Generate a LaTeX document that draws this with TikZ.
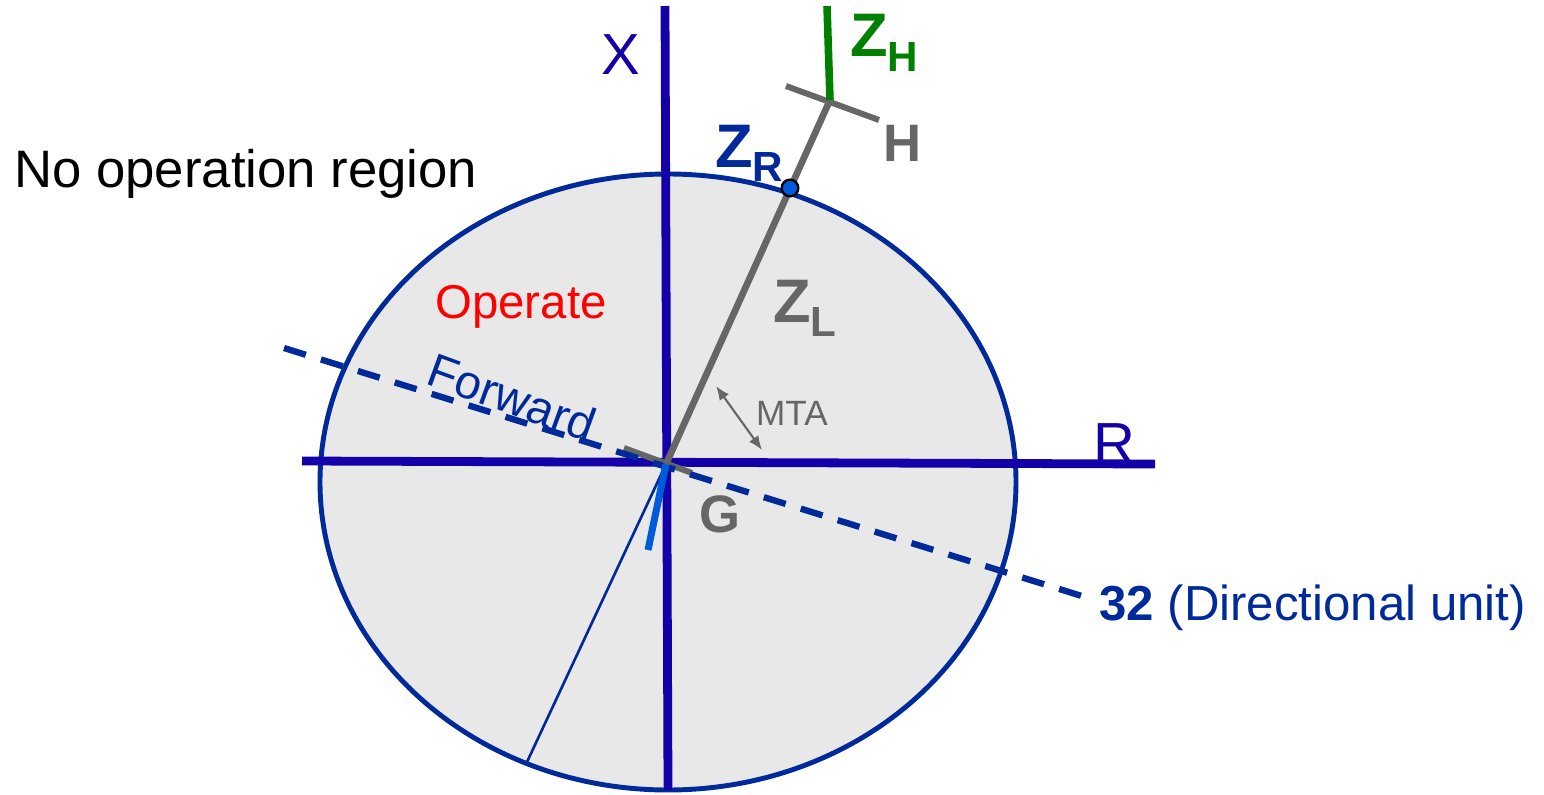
\documentclass[tikz,border=0pt]{standalone}
\usepackage{fontspec}
\setmainfont{Liberation Sans}
\usepackage{xcolor}
\usetikzlibrary{arrows.meta}
\definecolor{axisblue}{RGB}{20,0,168}
\definecolor{navy}{RGB}{0,42,154}
\definecolor{ashgray}{RGB}{102,102,102}
\definecolor{leafgreen}{RGB}{0,128,0}
\definecolor{brightblue}{RGB}{0,90,220}
\definecolor{regionfill}{RGB}{232,232,232}
\newcommand{\fs}[1]{\fontsize{#1}{#1}\selectfont}
\newcommand{\zlab}[1]{\fs{35}Z\fs{24}\raisebox{-8.5pt}{#1}}

\begin{document}
\begin{tikzpicture}[x=0.02cm, y=-0.02cm,
      every node/.style={inner sep=0pt},
      ax/.style={draw=axisblue, line width=5pt},
      zl/.style={draw=ashgray, line width=3.8pt},
      fwd/.style={draw=navy, line width=3.6pt, dash pattern=on 13pt off 9pt},
      lbl/.style={font=\bfseries}]
    \useasboundingbox (0,0) rectangle (1544,794);
    \draw[navy, line width=2.8pt, fill=regionfill] (668,482) ellipse [x radius=348, y radius=308];
    \coordinate (g) at (666,464);
    \coordinate (h) at (830,100);
    \coordinate (xtop) at (665,6);
    \coordinate (xbot) at (668,790);
    \coordinate (rl) at (302,461);
    \coordinate (rr) at (1155,464);
    \coordinate (fl) at (284,348);
    \coordinate (fr) at (1085,597);
    \coordinate (rim) at (527,762);
    \coordinate (bb) at (648,550);
    \coordinate (ga) at (624,448);
    \coordinate (gb) at (692,473);
    \coordinate (ha) at (786,86);
    \coordinate (hb) at (879,120);
    \coordinate (zh) at (827,6);
    \coordinate (ma) at (716,386);
    \coordinate (mb) at (762,450);
    \draw[navy, line width=1.5pt] (g) -- (rim);
    \draw[ax] (rl) -- (rr);
    \draw[ax] (xtop) -- (xbot);
    \draw[ashgray, line width=3.4pt] (ga) -- (gb);
    \draw[fwd] (fl) -- (fr);
    \draw[brightblue, line width=4pt] (g) -- (bb);
    \draw[zl] (g) -- (h);
    \draw[ashgray, line width=3.4pt] (ha) -- (hb);
    \draw[leafgreen, line width=4.3pt] (h) -- (zh);
    \draw[ashgray, line width=1.2pt, {Latex[length=8pt,width=6.5pt]}-{Latex[length=8pt,width=6.5pt]}] (ma) -- (mb);
    \node[circle, draw=black, fill=brightblue, line width=1.3pt, minimum size=9.5pt] (zr) at (790,188) {};
    \node[font=\fs{30}, anchor=base west] (noop) at (14,187) {No operation region};
    \node[font=\fs{27}, text=red, anchor=base] (op) at (521,318) {Operate};
    \node[font=\fs{27}, text=navy, rotate=-20] (fw) at (512,397) {Forward};
    \node[font=\fs{33}, text=axisblue] (xl) at (621,55) {X};
    \node[font=\fs{33}, text=axisblue] (rlab) at (1114,444) {R};
    \node[lbl, text=navy, anchor=base west] (zrl) at (715,167) {\zlab{R}};
    \node[lbl, text=leafgreen, anchor=base west] (zhl) at (850,57) {\zlab{H}};
    \node[lbl, text=ashgray, anchor=base west] (zll) at (773,322) {\zlab{L}};
    \node[font=\fs{30}\bfseries, text=ashgray] (hl) at (903,143) {H};
    \node[font=\fs{30}\bfseries, text=ashgray] (gl) at (720,514) {G};
    \node[font=\fs{20}, text=ashgray] (mta) at (792,413) {MTA};
    \node[font=\fs{28}, text=navy, anchor=base west] (dir) at (1099,620) {\textbf{32} (Directional unit)};
  \end{tikzpicture}
\end{document}
